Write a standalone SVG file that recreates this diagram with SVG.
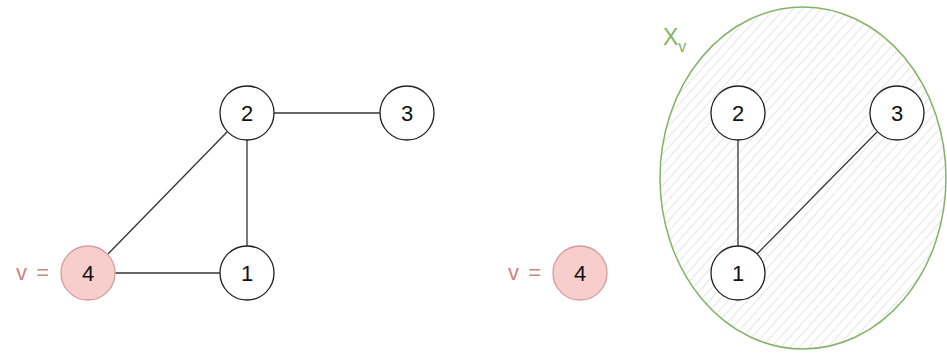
<svg xmlns="http://www.w3.org/2000/svg" width="947" height="354" viewBox="0 0 947 354">
<defs>
<pattern id="hatch" width="7" height="7" patternUnits="userSpaceOnUse" patternTransform="rotate(42)">
<line x1="0" y1="0" x2="0" y2="7" stroke="#cfcfcf" stroke-width="1.1"/>
</pattern>
</defs>
<style>
.n{fill:#fff;stroke:#222;stroke-width:1.3}
.r{fill:#f8cecc;stroke:#d79b9b;stroke-width:1.3}
.t{font-family:"Liberation Sans",Arial,sans-serif;font-size:22px;fill:#111;text-anchor:middle;dominant-baseline:central}
.v{font-family:"Liberation Sans",Arial,sans-serif;font-size:22px;fill:#c98585;text-anchor:end;dominant-baseline:central}
.e{stroke:#333;stroke-width:1.3;fill:none}
</style>
<g id="set-Xv">
<ellipse cx="803" cy="178" rx="143" ry="171" fill="url(#hatch)" stroke="#82b366" stroke-width="1.5"/>
<text x="663" y="45" font-family="Liberation Sans,Arial,sans-serif" font-size="23" fill="#82b366">X<tspan dy="7" font-size="16">v</tspan></text>
</g>
<g id="connectors">
<line class="e" x1="274" y1="113" x2="380" y2="113"/>
<line class="e" x1="247" y1="140" x2="247" y2="246"/>
<line class="e" x1="227" y1="132" x2="108" y2="254"/>
<line class="e" x1="115" y1="273" x2="221" y2="273"/>
<line class="e" x1="738" y1="140" x2="738" y2="246" stroke-width="1"/>
<line class="e" x1="757" y1="254" x2="877" y2="132"/>
</g>
<g id="L4"><circle class="r" cx="88" cy="273" r="27"/><text class="t" x="88" y="273">4</text><text class="v" x="49" y="272" word-spacing="3">v =</text></g>
<g id="L1"><circle class="n" cx="247" cy="273" r="27"/><text class="t" x="247" y="273">1</text></g>
<g id="L2"><circle class="n" cx="247" cy="113" r="27"/><text class="t" x="247" y="113">2</text></g>
<g id="L3"><circle class="n" cx="407" cy="113" r="27"/><text class="t" x="407" y="113">3</text></g>
<g id="R4"><circle class="r" cx="580" cy="273" r="27"/><text class="t" x="580" y="273">4</text><text class="v" x="541" y="272" word-spacing="3">v =</text></g>
<g id="R1"><circle class="n" cx="738" cy="273" r="27"/><text class="t" x="738" y="273">1</text></g>
<g id="R2"><circle class="n" cx="738" cy="113" r="27"/><text class="t" x="738" y="113">2</text></g>
<g id="R3"><circle class="n" cx="897" cy="113" r="27"/><text class="t" x="897" y="113">3</text></g>
</svg>
